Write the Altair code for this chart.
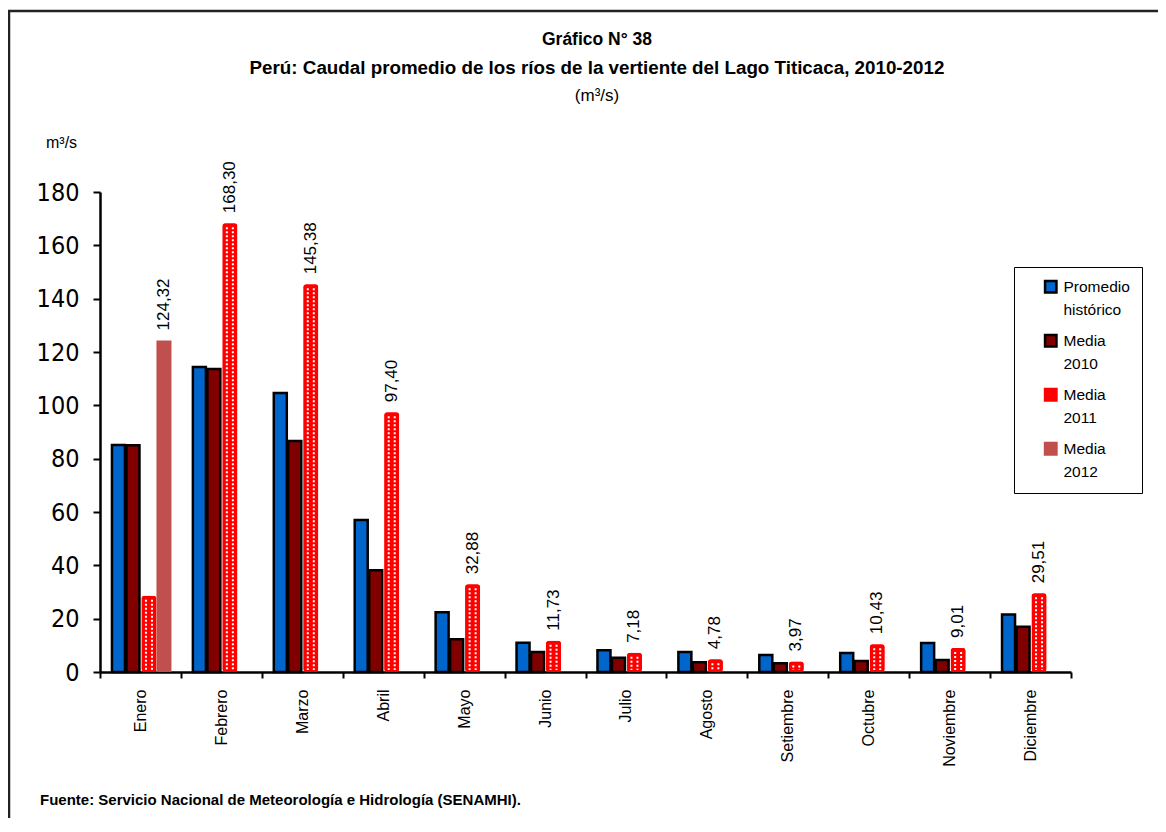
import altair as alt
import pandas as pd

meses = ["Enero", "Febrero", "Marzo", "Abril", "Mayo", "Junio", "Julio",
         "Agosto", "Setiembre", "Octubre", "Noviembre", "Diciembre"]
promedio = [85.1, 114.4, 104.6, 57.0, 22.4, 11.0, 8.2, 7.5, 6.4, 7.1, 10.9, 21.6]
media_2010 = [85.0, 113.6, 86.6, 38.2, 12.3, 7.5, 5.3, 3.7, 3.3, 4.1, 4.5, 17.0]
media_2011 = [28.6, 168.30, 145.38, 97.40, 32.88, 11.73, 7.18, 4.78, 3.97, 10.43, 9.01, 29.51]
media_2012 = [124.32, None, None, None, None, None, None, None, None, None, None, None]
rotulo_2011 = [False, True, True, True, True, True, True, True, True, True, True, True]
rotulo_2012 = [True] + [False] * 11

series = ["Promedio histórico", "Media 2010", "Media 2011", "Media 2012"]
fills = ["#0066CC", "#800000", "#FF0000", "#C0504D"]
strokes = ["#000000", "#000000", "#FF0000", "#C0504D"]

rows = []
for i, m in enumerate(meses):
    for s, vals, flags in [
        (series[0], promedio, None),
        (series[1], media_2010, None),
        (series[2], media_2011, rotulo_2011),
        (series[3], media_2012, rotulo_2012),
    ]:
        v = vals[i]
        if v is None:
            continue
        lab = ""
        if flags is not None and flags[i]:
            lab = f"{v:.2f}".replace(".", ",")
        rows.append({"Mes": m, "Serie": s, "valor": v, "label": lab})
df = pd.DataFrame(rows)

FONT = "Liberation Sans, Arial, sans-serif"
NARROW = "Liberation Sans Narrow, Arial Narrow, DejaVu Sans Condensed, Liberation Sans, sans-serif"

W, H = 971, 480

x_enc = alt.X("Mes:N", sort=meses,
              scale=alt.Scale(domain=meses, paddingInner=0, paddingOuter=0),
              axis=alt.Axis(title=None, labelAngle=270, labelAlign="right",
                            labelBaseline="middle", labelFont=FONT, labelFontSize=16,
                            labelColor="black", labelPadding=11, tickBand="extent",
                            tickSize=6, tickWidth=2, tickColor="black",
                            domainColor="black", domainWidth=2.5, grid=False))
y_enc = alt.Y("valor:Q",
              scale=alt.Scale(domain=[0, 180], nice=False, zero=True),
              axis=alt.Axis(title=None, values=list(range(0, 181, 20)),
                            labelFont=NARROW, labelFontSize=25, labelColor="black",
                            labelPadding=14, tickSize=7, tickWidth=2, tickColor="black",
                            domainColor="black", domainWidth=2.5, grid=False))

legend_def = dict(title=None, orient="none", legendX=914, legendY=75,
                  strokeColor="black", padding=12,
                  symbolType="square", symbolSize=130,
                  symbolStrokeWidth=2.5, labelFont=FONT,
                  labelFontSize=15.5, labelColor="black",
                  labelExpr="split(datum.label, ' ')",
                  labelBaseline="middle", labelOffset=5,
                  rowPadding=11, symbolOffset=17, labelLimit=200)

fill_enc = alt.Fill("Serie:N", scale=alt.Scale(domain=series, range=fills),
                    legend=alt.Legend(**legend_def))
stroke_enc = alt.Stroke("Serie:N", scale=alt.Scale(domain=series, range=strokes),
                        legend=alt.Legend(**legend_def))

base = alt.Chart(df)

def barlayer(s, off, size, sw, radius=0):
    return base.transform_filter(alt.datum.Serie == s).mark_bar(
        size=size, xOffset=off, strokeWidth=sw, cornerRadius=radius
    ).encode(x=x_enc, y=y_enc, fill=fill_enc, stroke=stroke_enc)

b0 = barlayer(series[0], -22, 13, 2.5)
b1 = barlayer(series[1], -7.5, 13, 2.5)
b2 = barlayer(series[2], 8.5, 15, 4, 3)
b3 = barlayer(series[3], 23.5, 15, 0)

def dots(off):
    return base.transform_filter(alt.datum.Serie == series[2]).mark_rule(
        color="white", strokeWidth=2, strokeDash=[2, 2], xOffset=off, yOffset=4, y2Offset=-2
    ).encode(x=alt.X("Mes:N", sort=meses), y="valor:Q", y2=alt.datum(0))

d1 = dots(8.5 - 3)
d2 = dots(8.5 + 3)

def labels(s, off):
    return base.transform_filter((alt.datum.Serie == s) & (alt.datum.label != "")).mark_text(
        angle=270, align="left", baseline="middle", dx=10, xOffset=off,
        font=FONT, fontSize=17, color="black"
    ).encode(x=alt.X("Mes:N", sort=meses), y="valor:Q", text="label:N")

t2 = labels(series[2], 8.5)
t3 = labels(series[3], 23.5)

def note(text, x, y, size, weight="normal", align="center"):
    return alt.Chart(pd.DataFrame({"t": [text]})).mark_text(
        font=FONT, fontSize=size, fontWeight=weight, align=align, baseline="middle", color="black"
    ).encode(x=alt.value(x), y=alt.value(y), text="t:N")

n1 = note("Gráfico N° 38", 497, -152, 17.5, "bold")
n2 = note("Perú: Caudal promedio de los ríos de la vertiente del Lago Titicaca, 2010-2012", 497, -124, 18.8, "bold")
n3 = note("(m³/s)", 497, -96, 17)
n4 = note("m³/s", -54, -49, 16, align="left")
n5 = note("Fuente: Servicio Nacional de Meteorología e Hidrología (SENAMHI).", -60, 608, 15, "bold", align="left")

frame = alt.Chart(pd.DataFrame({"t": [0]})).mark_rect(
    fillOpacity=0, stroke="#222222", strokeWidth=2.5
).encode(x=alt.value(-91), x2=alt.value(1300), y=alt.value(-181), y2=alt.value(900))

chart = alt.layer(frame, b0, b1, b2, b3, d1, d2, t2, t3, n1, n2, n3, n4, n5).properties(
    width=W, height=H,
    autosize=alt.AutoSizeParams(type="none"),
    padding={"left": 92, "top": 184, "right": 87, "bottom": 146},
    background="white",
).configure(
    view=alt.ViewConfig(stroke=None),
    style={"guide-label": {"lineHeight": 23}},
)

chart.save("out.html", embed_options={"renderer": "svg", "actions": False})
